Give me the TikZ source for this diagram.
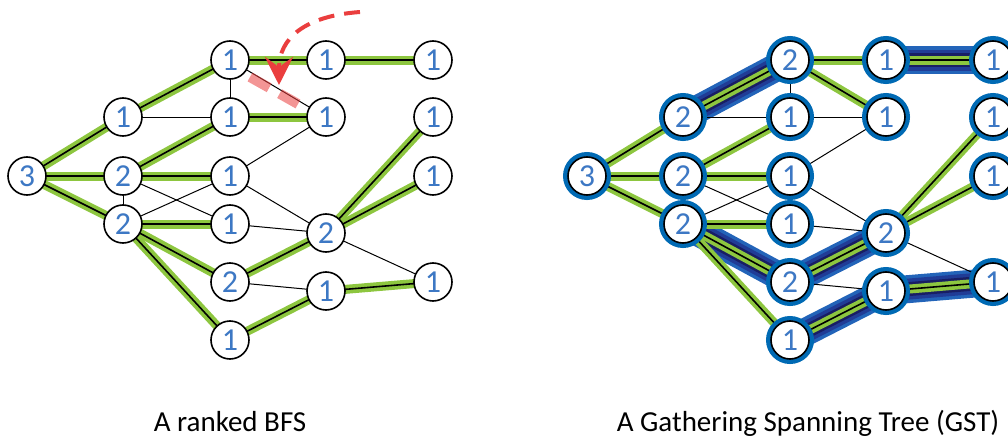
\documentclass[tikz,border=0pt]{standalone}
\usepackage{fontspec}
\setmainfont{Carlito}
\usepackage{tikz}
\usetikzlibrary{arrows.meta,backgrounds}
\definecolor{numblue}{RGB}{61,120,196}
\definecolor{ringblue}{RGB}{0,106,180}
\definecolor{hlgreen}{RGB}{141,198,63}
\definecolor{bandlight}{RGB}{35,100,185}
\definecolor{bandmid}{RGB}{32,60,150}
\definecolor{banddark}{RGB}{24,30,100}
\definecolor{arrowred}{RGB}{234,62,62}
\tikzset{
  vtx/.style={circle,draw=black,line width=0.8pt,fill=white,minimum size=19pt,inner sep=0pt,
    text=numblue,font=\fontsize{16}{16}\selectfont},
  gvtx/.style={vtx,preaction={draw=ringblue,line width=5pt}},
  plainedge/.style={draw=black,line width=0.5pt},
  greenedge/.style={draw=hlgreen,line width=4.5pt,postaction={draw=black,line width=0.8pt}},
  caption/.style={anchor=base,font=\fontsize{14.5}{17}\selectfont}
}

\begin{document}
\begin{tikzpicture}[x=0.5pt,y=-0.5pt]
\useasboundingbox (0,0) rectangle (1008,439);
\foreach \n/\x/\y/\l in {r/27/176/3,a/123/117/1,b/123/176/2,c/123/224/2,d/230/60/1,e/230/117/1,f/230/176/1,g/230/224/1,h/230/282/2,i/230/340/1,j/326/60/1,k/326/117/1,l/326/233/2,m/326/291/1,n/433/60/1,o/433/117/1,p/433/176/1,q/433/282/1}
  \node[vtx] (L\n) at (\x,\y) {\l};
\foreach \n/\x/\y/\l in {r/27/176/3,a/123/117/2,b/123/176/2,c/123/224/2,d/230/60/2,e/230/117/1,f/230/176/1,g/230/224/1,h/230/282/2,i/230/340/1,j/326/60/1,k/326/117/1,l/326/233/2,m/326/291/1,n/433/60/1,o/433/117/1,p/433/176/1,q/433/282/1}
  \node[gvtx] (R\n) at (\x+560,\y) {\l};
\begin{scope}[on background layer]
\foreach \u/\v in {a/d,c/h,h/l,i/m,j/n,m/q}
  \foreach \w/\c in {14pt/bandlight,10.5pt/bandmid,7pt/banddark}
    \draw[line width=\w,draw=\c] (R\u.center) -- (R\v.center);
\foreach \u/\v in {r/a,r/b,r/c,a/d,b/e,b/f,c/g,c/h,c/i,d/j,e/k,h/l,i/m,j/n,l/o,l/p,m/q}
  \draw[greenedge] (L\u.center) -- (L\v.center);
\foreach \u/\v in {r/a,r/b,r/c,a/d,b/e,b/f,c/g,c/h,c/i,d/j,d/k,h/l,i/m,j/n,l/o,l/p,m/q}
  \draw[greenedge] (R\u.center) -- (R\v.center);
\foreach \u/\v in {a/e,b/c,b/g,c/f,d/e,d/k,f/k,f/l,g/l,h/m,l/q}
  \draw[plainedge] (L\u.center) -- (L\v.center);
\foreach \u/\v in {a/e,b/c,b/g,c/f,d/e,e/k,f/k,f/l,g/l,h/m,l/q}
  \draw[plainedge] (R\u.center) -- (R\v.center);
\end{scope}
\draw[arrowred,opacity=0.55,line width=5pt,dash pattern=on 11pt off 6pt] (250,77) -- (298,104);
\draw[arrowred,line width=2pt,dash pattern=on 8pt off 5pt,-{Stealth[length=14pt,width=14pt,inset=5pt]}]
  (360,12) .. controls (305,16) and (279,38) .. (279,85);
\node[caption] (cap1) at (230,431) {A ranked BFS};
\node[caption] (cap2) at (808,431) {A Gathering Spanning Tree (GST)};
\end{tikzpicture}
\end{document}
